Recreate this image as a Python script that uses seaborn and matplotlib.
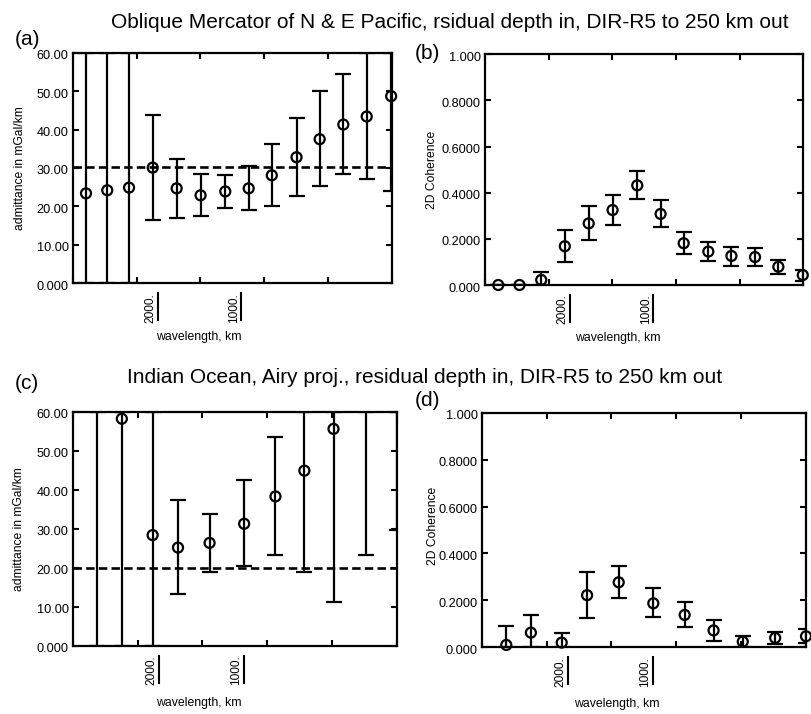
import numpy as np
import pandas as pd
import matplotlib
matplotlib.use("Agg")
import matplotlib.pyplot as plt
import matplotlib.transforms as mtransforms
import seaborn as sns

# ---------------------------------------------------------------------------
# Data.  Horizontal axis is wavenumber k = 2*pi/lambda in units of 1e-3 rad/km.
# Error bars are stored as lower / upper bounds; NaN centres are off scale.
# ---------------------------------------------------------------------------
k_pacific = [0.50, 1.30, 2.12, 3.01, 3.91, 4.81, 5.74, 6.62, 7.49, 8.42,
             9.29, 10.18, 11.06, 11.98]
adm_pacific = [23.4, 24.2, 24.9, 30.1, 24.7, 22.9, 23.9, 24.7, 28.1, 32.8,
               37.5, 41.3, 43.4, 48.7]
adm_pacific_lo = [0.0, 0.0, 0.0, 16.6, 17.0, 17.6, 19.7, 19.2, 20.2, 22.8,
                  25.2, 28.4, 27.1, 24.0]
adm_pacific_hi = [60.0, 60.0, 60.0, 43.7, 32.4, 28.4, 28.2, 30.4, 36.3, 42.9,
                  50.0, 54.5, 60.0, 60.0]
adm_pacific_ref = 30.3

coh_pacific = [0.0, 0.0, 0.022, 0.168, 0.267, 0.325, 0.432, 0.308, 0.181,
               0.145, 0.126, 0.121, 0.079, 0.043]
coh_pacific_lo = [0.0, 0.0, 0.0, 0.098, 0.194, 0.262, 0.374, 0.250, 0.133,
                  0.103, 0.084, 0.084, 0.049, 0.019]
coh_pacific_hi = [0.0, 0.0, 0.055, 0.238, 0.342, 0.392, 0.494, 0.368, 0.230,
                  0.186, 0.166, 0.159, 0.108, 0.066]

k_indian = [0.91, 1.82, 2.96, 3.90, 5.07, 6.35, 7.51, 8.58, 9.66, 10.86, 12.0]
adm_indian = [np.nan, 58.2, 28.4, 25.2, 26.4, 31.3, 38.3, 44.9, 55.6,
              np.nan, np.nan]
adm_indian_lo = [0.0, 0.0, 0.0, 13.3, 19.0, 20.4, 23.2, 19.0, 11.2, 23.4, 29.7]
adm_indian_hi = [60.0, 60.0, 60.0, 37.4, 33.9, 42.5, 53.6, 60.0, 60.0, 60.0,
                 60.0]
adm_indian_ref = 20.0

coh_indian = [0.010, 0.0625, 0.020, 0.222, 0.277, 0.1875, 0.138, 0.072,
              0.024, 0.040, 0.047]
coh_indian_lo = [0.0, 0.0, 0.0, 0.126, 0.210, 0.129, 0.085, 0.028, 0.003,
                 0.014, 0.018]
coh_indian_hi = [0.092, 0.138, 0.060, 0.320, 0.345, 0.251, 0.193, 0.118,
                 0.048, 0.064, 0.077]

# axis ticks and labels
k_ticks = [0.0, 2.4, 4.8, 7.2, 9.6, 12.0]
wavelength_marks = [2000, 1000]          # km, labelled under the axis
adm_ticks = [0, 10, 20, 30, 40, 50, 60]
adm_ticklabels = ["0.000", "10.00", "20.00", "30.00", "40.00", "50.00", "60.00"]
coh_ticks = [0.0, 0.2, 0.4, 0.6, 0.8, 1.0]
coh_ticklabels = ["0.000", "0.2000", "0.4000", "0.6000", "0.8000", "1.000"]

title_pacific = "Oblique Mercator of N & E Pacific, rsidual depth in, DIR-R5 to 250 km out"
title_indian = "Indian Ocean, Airy proj., residual depth in, DIR-R5 to 250 km out"
adm_label = "admittance in mGal/km"
coh_label = "2D Coherence"
x_label = "wavelength, km"

# ---------------------------------------------------------------------------
sns.set_style("ticks")
plt.rcParams["font.family"] = ["Liberation Sans", "DejaVu Sans"]
plt.rcParams["text.color"] = "black"
plt.rcParams["axes.edgecolor"] = "black"
plt.rcParams["axes.labelcolor"] = "black"
plt.rcParams["xtick.color"] = "black"
plt.rcParams["ytick.color"] = "black"

W, H = 811, 714
fig = plt.figure(figsize=(W / 100, H / 100), dpi=100)
fig.patch.set_facecolor("white")


def add_panel(box):
    left, top, right, bottom = box
    return fig.add_axes([left / W, 1 - bottom / H, (right - left) / W, (bottom - top) / H])


def draw_panel(ax, box, k, val, lo, hi, ticks, ticklabels, ylabel,
               ref=None, xlab_x=0.4, xlab_y=-0.21, ylab_x=-0.147, ylab_y=0.5):
    lo = np.asarray(lo, float)
    hi = np.asarray(hi, float)
    df = pd.DataFrame({"k": k, "val": val})

    if ref is not None:
        ax.axhline(ref, color="black", lw=1.9, ls=(0, (3.2, 1.6)), zorder=1)

    ax.errorbar(k, (lo + hi) / 2, yerr=(hi - lo) / 2, fmt="none",
                ecolor="black", elinewidth=1.6, capsize=5.8, capthick=1.6,
                zorder=2)
    sns.scatterplot(data=df, x="k", y="val", ax=ax, marker="o", s=52,
                    facecolor="none", edgecolor="black", linewidth=1.6,
                    zorder=3, clip_on=False, legend=False)

    ax.set_xlim(k_ticks[0], k_ticks[-1])
    ax.set_ylim(ticks[0], ticks[-1])
    ax.set_xticks(k_ticks)
    ax.set_yticks(ticks)
    ax.set_yticklabels(ticklabels)
    ax.tick_params(direction="in", length=4, width=1.5, top=True, right=True,
                   labelbottom=False, labelsize=9.2, pad=3)
    # tick labels sit a little below their ticks
    shift = mtransforms.ScaledTranslation(0, -2 / 100, fig.dpi_scale_trans)
    for lab in ax.get_yticklabels():
        lab.set_transform(lab.get_transform() + shift)
    for s in ax.spines.values():
        s.set_linewidth(1.6)
        s.set_visible(True)

    ax.set_xlabel(x_label, fontsize=8.8)
    ax.xaxis.set_label_coords(xlab_x, xlab_y)
    ax.set_ylabel(ylabel, fontsize=8.7)
    ax.yaxis.set_label_coords(ylab_x, ylab_y)

    # wavelength labels (underlined, rotated) below the wavenumber axis
    h_px = box[3] - box[1]
    trans = ax.get_xaxis_transform()
    line_trans = mtransforms.offset_copy(trans, fig=fig, x=1.5, y=0, units="dots")
    for lam in wavelength_marks:
        kk = 2 * np.pi * 1000 / lam
        ax.annotate(f"{lam}.", xy=(kk, 0), xycoords=trans,
                    xytext=(0, -7.0), textcoords="offset points",
                    rotation=90, ha="right", va="top", fontsize=8.6)
        ax.plot([kk, kk], [-9 / h_px, -38 / h_px], transform=line_trans,
                color="black", lw=1.5, clip_on=False, solid_capstyle="butt")
    ax.set_facecolor("white")


box_a = (72.7, 52.7, 391.7, 283.3)
box_b = (485.0, 54.3, 803.3, 285.0)
box_c = (72.7, 411.7, 396.7, 646.0)
box_d = (481.7, 412.7, 806.0, 647.3)

ax_a = add_panel(box_a)
ax_b = add_panel(box_b)
ax_c = add_panel(box_c)
ax_d = add_panel(box_d)

draw_panel(ax_a, box_a, k_pacific, adm_pacific, adm_pacific_lo, adm_pacific_hi,
           adm_ticks, adm_ticklabels, adm_label, ref=adm_pacific_ref,
           xlab_x=0.396, xlab_y=-0.209, ylab_x=-0.146)
draw_panel(ax_b, box_b, k_pacific, coh_pacific, coh_pacific_lo, coh_pacific_hi,
           coh_ticks, coh_ticklabels, coh_label,
           xlab_x=0.418, xlab_y=-0.2025, ylab_x=-0.149)
draw_panel(ax_c, box_c, k_indian, adm_indian, adm_indian_lo, adm_indian_hi,
           adm_ticks, adm_ticklabels, adm_label, ref=adm_indian_ref,
           xlab_x=0.39, xlab_y=-0.216, ylab_x=-0.147)
draw_panel(ax_d, box_d, k_indian, coh_indian, coh_indian_lo, coh_indian_hi,
           coh_ticks, coh_ticklabels, coh_label,
           xlab_x=0.418, xlab_y=-0.2175, ylab_x=-0.133, ylab_y=0.518)

# titles and panel letters
fig.text(450 / W, 1 - 28.3 / H, title_pacific, ha="center", va="baseline", fontsize=15)
fig.text(425 / W, 1 - 383.3 / H, title_indian, ha="center", va="baseline", fontsize=15)
for letter, x, y in [("(a)", 15, 45), ("(b)", 415, 59), ("(c)", 15, 389), ("(d)", 415, 406)]:
    fig.text(x / W, 1 - y / H, letter, ha="left", va="baseline", fontsize=15)

fig.savefig("out.png", dpi=100, facecolor="white")
